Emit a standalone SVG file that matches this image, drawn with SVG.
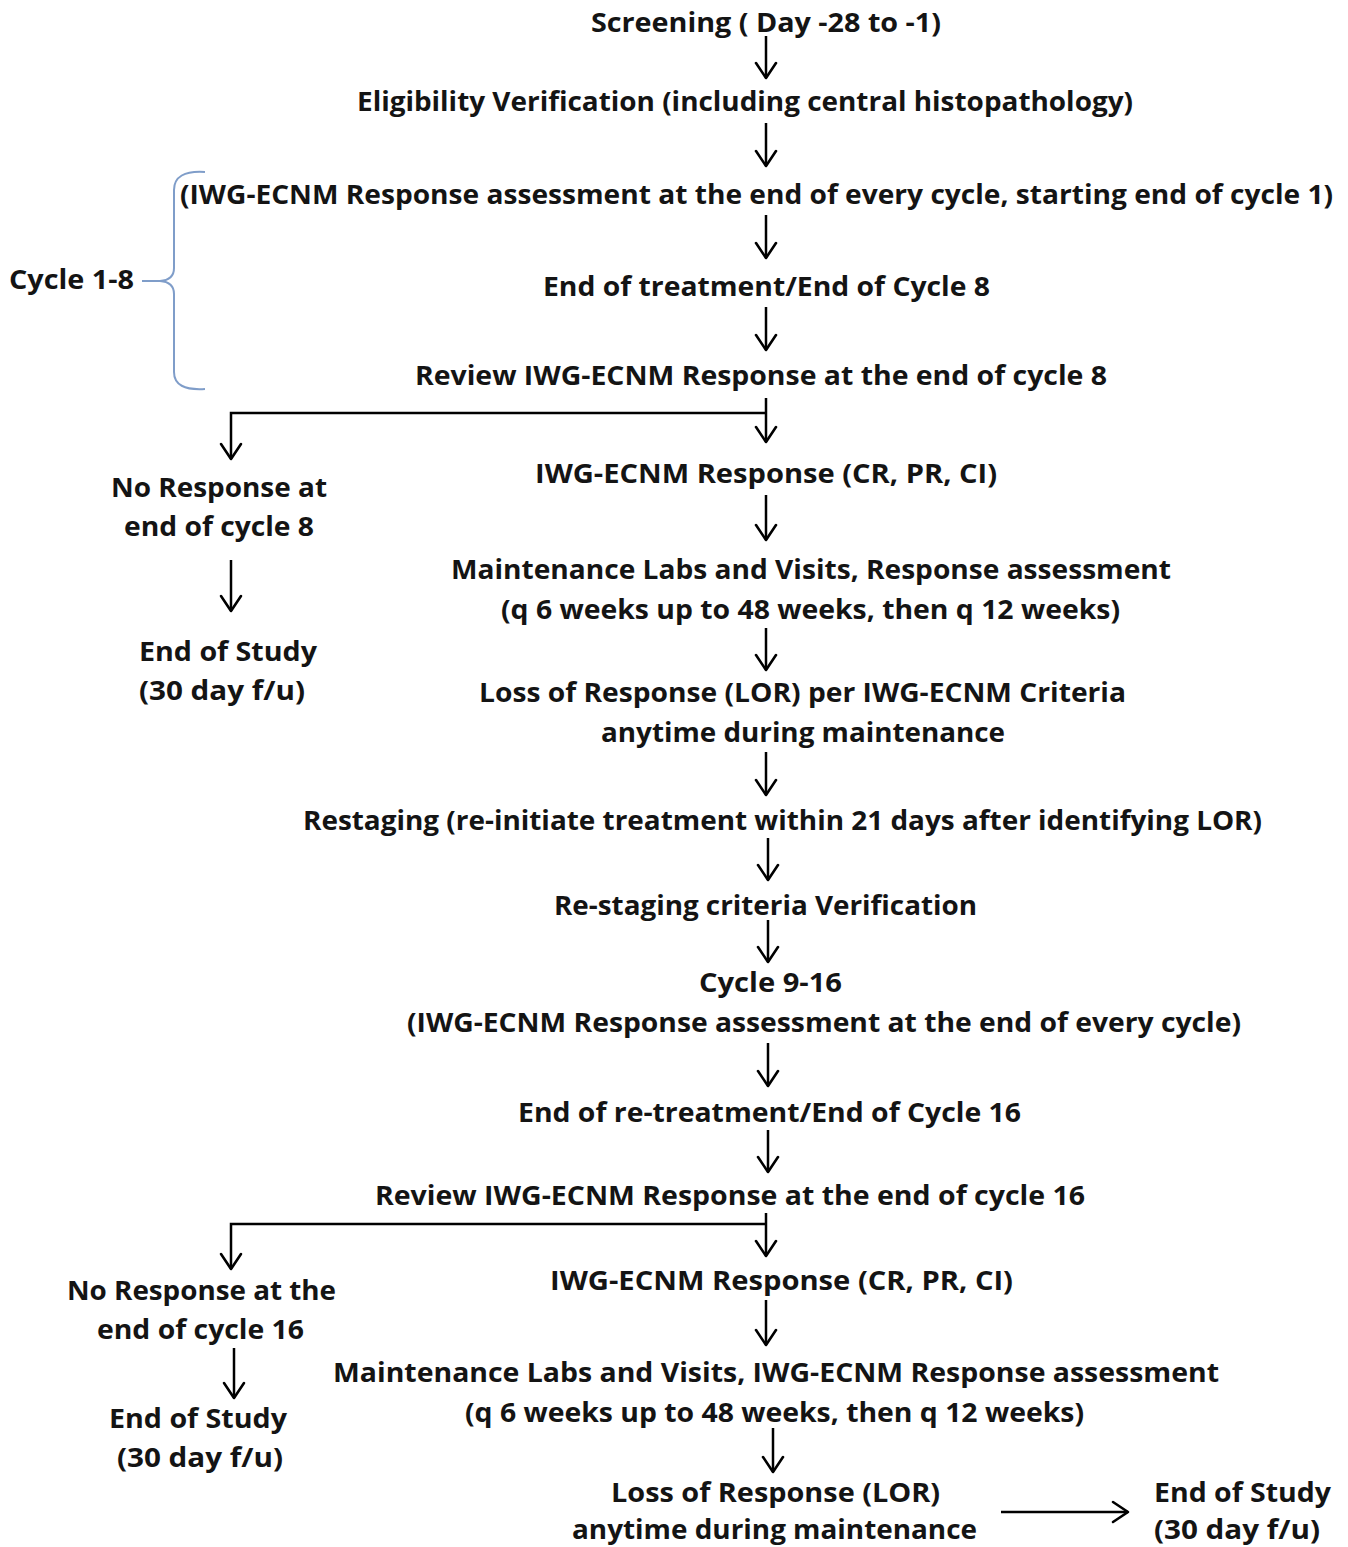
<svg xmlns="http://www.w3.org/2000/svg" width="1348" height="1547" viewBox="0 0 1348 1547">
<defs>
<style>
text{font-family:"Open Sans","Noto Sans","Liberation Sans",sans-serif;font-weight:bold;font-size:26px;fill:#141414;text-anchor:middle}
.l{text-anchor:start}
.c{stroke:#000;stroke-width:2.5;fill:none}
</style>
<marker id="ah" viewBox="0 0 26 26" refX="24" refY="13" markerWidth="26" markerHeight="26" markerUnits="userSpaceOnUse" orient="auto">
<path d="M9,3 L24,13 L9,23" fill="none" stroke="#000" stroke-width="2.6" stroke-linecap="round" stroke-linejoin="round"/>
</marker>
</defs>
<rect width="1348" height="1547" fill="#fff"/>

<g id="connectors">
<line class="c" x1="766" y1="36" x2="766" y2="78" marker-end="url(#ah)"/>
<line class="c" x1="766" y1="123" x2="766" y2="166" marker-end="url(#ah)"/>
<line class="c" x1="766" y1="215" x2="766" y2="258" marker-end="url(#ah)"/>
<line class="c" x1="766" y1="307" x2="766" y2="350" marker-end="url(#ah)"/>
<line class="c" x1="766" y1="398" x2="766" y2="442" marker-end="url(#ah)"/>
<polyline class="c" points="766,413 231,413 231,459" marker-end="url(#ah)"/>
<line class="c" x1="766" y1="495" x2="766" y2="540" marker-end="url(#ah)"/>
<line class="c" x1="231" y1="560" x2="231" y2="611" marker-end="url(#ah)"/>
<line class="c" x1="766" y1="628" x2="766" y2="670" marker-end="url(#ah)"/>
<line class="c" x1="766" y1="752" x2="766" y2="795" marker-end="url(#ah)"/>
<line class="c" x1="768" y1="838" x2="768" y2="880" marker-end="url(#ah)"/>
<line class="c" x1="768" y1="920" x2="768" y2="962" marker-end="url(#ah)"/>
<line class="c" x1="768" y1="1043" x2="768" y2="1086" marker-end="url(#ah)"/>
<line class="c" x1="768" y1="1130" x2="768" y2="1172" marker-end="url(#ah)"/>
<line class="c" x1="766" y1="1213" x2="766" y2="1256" marker-end="url(#ah)"/>
<polyline class="c" points="766,1224 231,1224 231,1269" marker-end="url(#ah)"/>
<line class="c" x1="766" y1="1300" x2="766" y2="1345" marker-end="url(#ah)"/>
<line class="c" x1="234" y1="1348" x2="234" y2="1398" marker-end="url(#ah)"/>
<line class="c" x1="773" y1="1428" x2="773" y2="1472" marker-end="url(#ah)"/>
<line class="c" x1="1001" y1="1512" x2="1128" y2="1512" marker-end="url(#ah)"/>
<path d="M205,172 Q174,170 174,190 L174,268 Q174,280 160,281 L142,281 M160,281 Q174,282 174,294 L174,372 Q174,391 205,389" fill="none" stroke="#7f9dc9" stroke-width="2"/>
</g>

<g id="n-screening"><text x="766" y="32" textLength="350" lengthAdjust="spacingAndGlyphs">Screening ( Day -28 to -1)</text></g>
<g id="n-eligibility"><text x="745" y="111" textLength="776" lengthAdjust="spacingAndGlyphs">Eligibility  Verification (including central histopathology)</text></g>
<g id="n-assess1"><text x="756.5" y="204" textLength="1153" lengthAdjust="spacingAndGlyphs">(IWG-ECNM Response assessment at the end of every cycle, starting end of cycle 1)</text></g>
<g id="n-cycle18"><text class="l" x="9" y="289" textLength="125" lengthAdjust="spacingAndGlyphs">Cycle 1-8</text></g>
<g id="n-eot"><text x="766.5" y="296" textLength="447" lengthAdjust="spacingAndGlyphs">End of treatment/End of Cycle 8</text></g>
<g id="n-review8"><text x="761" y="385" textLength="692" lengthAdjust="spacingAndGlyphs">Review IWG-ECNM Response at the end of cycle 8</text></g>
<g id="n-resp1"><text x="766" y="483" textLength="462" lengthAdjust="spacingAndGlyphs">IWG-ECNM Response (CR, PR, CI)</text></g>
<g id="n-nores8"><text x="219" y="497" textLength="216" lengthAdjust="spacingAndGlyphs">No Response at</text><text x="219" y="536" textLength="190" lengthAdjust="spacingAndGlyphs">end of cycle 8</text></g>
<g id="n-maint1"><text x="811" y="579" textLength="720" lengthAdjust="spacingAndGlyphs">Maintenance Labs and Visits, Response  assessment</text><text x="810.5" y="619" textLength="619" lengthAdjust="spacingAndGlyphs">(q 6 weeks up to 48 weeks, then q 12 weeks)</text></g>
<g id="n-eos1"><text x="228" y="661" textLength="178" lengthAdjust="spacingAndGlyphs">End of Study</text><text x="222" y="700" textLength="166" lengthAdjust="spacingAndGlyphs">(30 day f/u)</text></g>
<g id="n-lor1"><text x="802.5" y="702" textLength="647" lengthAdjust="spacingAndGlyphs">Loss of Response (LOR) per IWG-ECNM Criteria</text><text x="803" y="742" textLength="404" lengthAdjust="spacingAndGlyphs">anytime during maintenance</text></g>
<g id="n-restaging"><text x="782.5" y="830" textLength="959" lengthAdjust="spacingAndGlyphs">Restaging (re-initiate treatment within 21 days after identifying LOR)</text></g>
<g id="n-restagecrit"><text x="765.5" y="915" textLength="423" lengthAdjust="spacingAndGlyphs">Re-staging criteria Verification</text></g>
<g id="n-cycle916"><text x="770.5" y="992" textLength="143" lengthAdjust="spacingAndGlyphs">Cycle 9-16</text><text x="824" y="1032" textLength="834" lengthAdjust="spacingAndGlyphs">(IWG-ECNM Response assessment at the end of every cycle)</text></g>
<g id="n-eort"><text x="769.5" y="1122" textLength="503" lengthAdjust="spacingAndGlyphs">End of re-treatment/End of Cycle 16</text></g>
<g id="n-review16"><text x="730" y="1205" textLength="710" lengthAdjust="spacingAndGlyphs">Review IWG-ECNM Response at the end of cycle 16</text></g>
<g id="n-resp2"><text x="781.5" y="1290" textLength="463" lengthAdjust="spacingAndGlyphs">IWG-ECNM Response (CR, PR, CI)</text></g>
<g id="n-nores16"><text x="201.5" y="1300" textLength="269" lengthAdjust="spacingAndGlyphs">No Response at the</text><text x="200.5" y="1339" textLength="207" lengthAdjust="spacingAndGlyphs">end of cycle 16</text></g>
<g id="n-maint2"><text x="776" y="1382" textLength="886" lengthAdjust="spacingAndGlyphs">Maintenance Labs and Visits, IWG-ECNM Response  assessment</text><text x="774.5" y="1422" textLength="619" lengthAdjust="spacingAndGlyphs">(q 6 weeks up to 48 weeks, then q 12 weeks)</text></g>
<g id="n-eos2"><text x="198" y="1428" textLength="178" lengthAdjust="spacingAndGlyphs">End of Study</text><text x="200" y="1467" textLength="166" lengthAdjust="spacingAndGlyphs">(30 day f/u)</text></g>
<g id="n-lor2"><text x="775.5" y="1502" textLength="329" lengthAdjust="spacingAndGlyphs">Loss of Response  (LOR)</text><text x="774.5" y="1539" textLength="405" lengthAdjust="spacingAndGlyphs">anytime during maintenance</text></g>
<g id="n-eos3"><text x="1242.5" y="1502" textLength="177" lengthAdjust="spacingAndGlyphs">End of Study</text><text x="1237" y="1539" textLength="166" lengthAdjust="spacingAndGlyphs">(30 day f/u)</text></g>
</svg>
